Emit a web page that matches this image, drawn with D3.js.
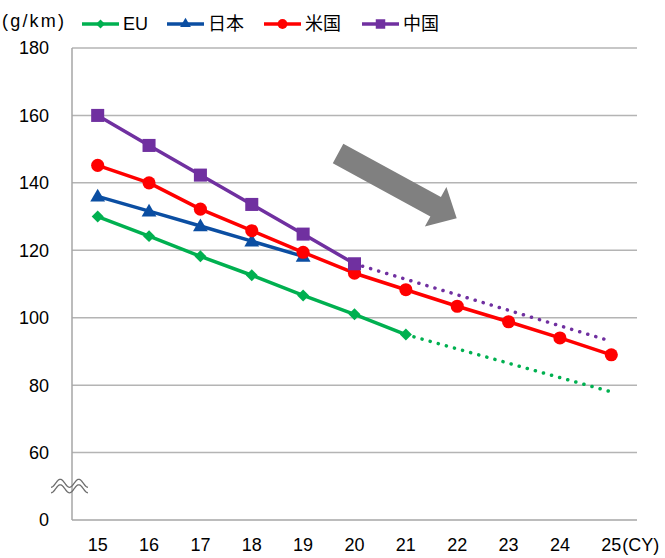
<!DOCTYPE html>
<html>
<head>
<meta charset="utf-8">
<script src="https://cdn.jsdelivr.net/npm/d3@7"></script>
<style>
  html, body { margin: 0; padding: 0; background: #fff; }
  svg { display: block; }
  text { font-family: "Liberation Sans", Arial, "Noto Sans CJK JP", sans-serif; fill: #000; }
</style>
</head>
<body>
<svg id="chart" width="665" height="558"></svg>
<script>
// Calendar years (CY, last two digits)
const years = ["15", "16", "17", "18", "19", "20", "21", "22", "23", "24", "25"];

// Fleet-average CO2 (g/km), actual / planned values
const euValues    = [130, 124.2, 118.2, 112.6, 106.6, 101, 95];
const japanValues = [136, 131.6, 127.2, 122.7, 118.2];
const usValues    = [145.2, 140, 132.2, 125.8, 119.4, 113.2, 108.3, 103.4, 98.8, 94, 89];
const chinaValues = [160, 151.1, 142.3, 133.6, 124.8, 116];

// Projected targets (dotted): [start, end] years and values
const euProjYears    = ["21", "25"];
const euProjValues   = [95, 78];
const chinaProjYears = ["20", "25"];
const chinaProjValues = [116, 93];

// Axis ticks (the axis is broken between 0 and 60)
const yTicks = [0, 60, 80, 100, 120, 140, 160, 180];

const seriesNames  = ["EU", "日本", "米国", "中国"];
const seriesColors = ["#00b050", "#0b4ea2", "#ff0000", "#7030a0"];
const seriesShapes = [d3.symbolSquare, d3.symbolTriangle, d3.symbolCircle, d3.symbolSquare];
const seriesRotate = [45, 0, 0, 0];

const W = 665, H = 558;
const margin = { top: 48, right: 28, bottom: 38, left: 72 };
const svg = d3.select("#chart");

const x = d3.scaleBand().domain(years).range([margin.left, W - margin.right]);
const xc = d => x(d) + x.bandwidth() / 2;
// Fractional position along the year axis (index based)
const xi = d3.scaleLinear().domain([0, years.length - 1]).range([xc(years[0]), xc(years[years.length - 1])]);

// Piecewise scale: the 0–60 stretch is compressed to one tick step
const y = d3.scaleLinear().domain([0, 60, 180]).range([H - margin.bottom, H - margin.bottom - (H - margin.bottom - margin.top) / 7, margin.top]);

// Gridlines
svg.append("g")
  .selectAll("line")
  .data(yTicks.filter(t => t > 0))
  .join("line")
  .attr("x1", margin.left).attr("x2", W - margin.right)
  .attr("y1", d => y(d)).attr("y2", d => y(d))
  .attr("stroke", "#b4b4b4").attr("stroke-width", 1.5);

// Axis lines
svg.append("line")
  .attr("x1", margin.left).attr("x2", margin.left)
  .attr("y1", margin.top).attr("y2", y(0))
  .attr("stroke", "#a6a6a6").attr("stroke-width", 1.5);
svg.append("line")
  .attr("x1", margin.left).attr("x2", W - margin.right)
  .attr("y1", y(0)).attr("y2", y(0))
  .attr("stroke", "#a6a6a6").attr("stroke-width", 1.5);

// Y tick labels
svg.append("g")
  .selectAll("text")
  .data(yTicks)
  .join("text")
  .attr("x", 49).attr("y", d => y(d))
  .attr("dy", "0.36em")
  .attr("text-anchor", "end")
  .attr("font-size", 18)
  .text(d => d);

// X tick labels
svg.append("g")
  .selectAll("text")
  .data(years)
  .join("text")
  .attr("x", d => xc(d)).attr("y", 551)
  .attr("text-anchor", "middle")
  .attr("font-size", 18)
  .text(d => d);
svg.append("text")
  .attr("x", xc(years[years.length - 1]) + 11).attr("y", 551)
  .attr("font-size", 18)
  .text("(CY)");

// Axis break mark (double wave)
const breakY = (y(0) + y(60)) / 2;
const wave = (dy) => {
  const x0 = 51, x1 = 88;
  const pts = d3.range(0, 61).map(i => {
    const t = i / 60;
    return [x0 + (x1 - x0) * t, breakY + dy + 4 * Math.cos(t * 4 * Math.PI)];
  });
  return d3.line()(pts);
};
[-3, 2.5].forEach(dy => {
  svg.append("path").attr("d", wave(dy)).attr("fill", "none")
    .attr("stroke", "#6e6e6e").attr("stroke-width", 1.3);
});

// Trend arrow
{
  const tail = [xi(4.68), y(148.7)];
  const tip = [xi(6.99), y(129.5)];
  const dx = tip[0] - tail[0], dy = tip[1] - tail[1];
  const len = Math.hypot(dx, dy);
  const ux = dx / len, uy = dy / len, px = -uy, py = ux;
  const shaftHalf = 11, headHalf = 22.5, headLen = 24;
  const bx = tip[0] - ux * headLen, by = tip[1] - uy * headLen;
  const pts = [
    [tail[0] + px * shaftHalf, tail[1] + py * shaftHalf],
    [bx + px * shaftHalf, by + py * shaftHalf],
    [bx + px * headHalf, by + py * headHalf],
    tip,
    [bx - px * headHalf, by - py * headHalf],
    [bx - px * shaftHalf, by - py * shaftHalf],
    [tail[0] - px * shaftHalf, tail[1] - py * shaftHalf]
  ];
  svg.append("path").attr("d", "M" + pts.map(p => p.join(",")).join("L") + "Z").attr("fill", "#808080");
}

// Projected (dotted) lines
const dotted = (yrs, vals, color) => {
  svg.append("line")
    .attr("x1", xc(yrs[0])).attr("y1", y(vals[0]))
    .attr("x2", xc(yrs[1])).attr("y2", y(vals[1]))
    .attr("stroke", color).attr("stroke-width", 3.5)
    .attr("stroke-linecap", "round").attr("stroke-dasharray", "0.1 8.3");
};
dotted(euProjYears, euProjValues, seriesColors[0]);
dotted(chinaProjYears, chinaProjValues, seriesColors[3]);

// Actual series
const allSeries = [euValues, japanValues, usValues, chinaValues];
const markerSizes = [72, 95, 135, 170];
const line = d3.line().x((d, i) => xc(years[i])).y(d => y(d));
allSeries.forEach((vals, k) => {
  const g = svg.append("g");
  g.append("path").attr("d", line(vals)).attr("fill", "none")
    .attr("stroke", seriesColors[k]).attr("stroke-width", 3.5)
    .attr("stroke-linejoin", "round");
  g.selectAll("path.m").data(vals).join("path").attr("class", "m")
    .attr("transform", (d, i) => `translate(${xc(years[i])},${y(d) + (k === 1 ? 1 : 0)}) rotate(${seriesRotate[k]})`)
    .attr("d", d3.symbol().type(seriesShapes[k]).size(markerSizes[k]))
    .attr("fill", seriesColors[k]);
});

// Unit label
svg.append("text").attr("x", 2).attr("y", 27).attr("font-size", 18)
  .attr("letter-spacing", 2.2).text("(g/km)");

// Legend
const legendX = [82, 167, 264, 362];
const legendSizes = [40, 50, 75, 90];
seriesNames.forEach((name, k) => {
  const g = svg.append("g").attr("transform", `translate(${legendX[k]},24)`);
  g.append("line").attr("x1", 0).attr("x2", 37).attr("y1", 0).attr("y2", 0)
    .attr("stroke", seriesColors[k]).attr("stroke-width", 3.5);
  g.append("path").attr("transform", `translate(18.5,0) rotate(${seriesRotate[k]})`)
    .attr("d", d3.symbol().type(seriesShapes[k]).size(legendSizes[k]))
    .attr("fill", seriesColors[k]);
  g.append("text").attr("x", 41).attr("y", 0).attr("dy", "0.36em")
    .attr("font-size", 18).text(name);
});
</script>
</body>
</html>
